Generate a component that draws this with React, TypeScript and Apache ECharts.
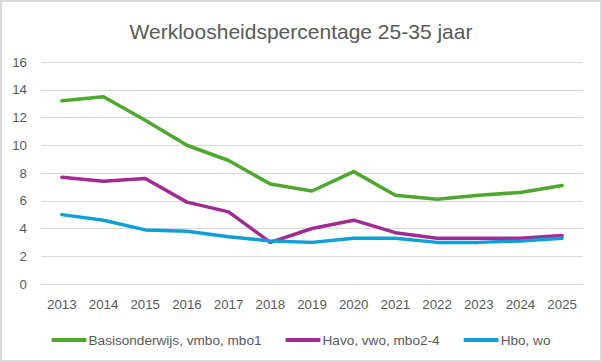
import React, { useEffect, useRef } from "react";
import * as echarts from "echarts";

const years = ["2013","2014","2015","2016","2017","2018","2019","2020","2021","2022","2023","2024","2025"];
const basis = [13.2, 13.5, 11.8, 10.0, 8.9, 7.2, 6.7, 8.1, 6.4, 6.1, 6.4, 6.6, 7.1];
const havo = [7.7, 7.4, 7.6, 5.9, 5.2, 3.0, 4.0, 4.6, 3.7, 3.3, 3.3, 3.3, 3.5];
const hbo = [5.0, 4.6, 3.9, 3.8, 3.4, 3.1, 3.0, 3.3, 3.3, 3.0, 3.0, 3.1, 3.3];
const seriesNames = ["Basisonderwijs, vmbo, mbo1", "Havo, vwo, mbo2-4", "Hbo, wo"];
const colors = ["#4EA72E", "#A02B93", "#0F9ED5"];

const FONT = "'Liberation Sans', Arial, sans-serif";

export default function App() {
  const ref = useRef<HTMLDivElement>(null);
  useEffect(() => {
    const chart = echarts.init(ref.current!, null, { renderer: "svg" });
    const data = [basis, havo, hbo];
    chart.setOption({
      animation: false,
      backgroundColor: "#ffffff",
      title: {
        text: "Werkloosheidspercentage 25-35 jaar",
        left: "center",
        top: 16,
        textStyle: { fontFamily: FONT, fontSize: 21, fontWeight: "normal", color: "#595959" },
      },
      graphic: [
        {
          type: "rect",
          shape: { x: 1, y: 1, width: 600, height: 360 },
          style: { fill: "none", stroke: "#d9d9d9", lineWidth: 2 },
          silent: true,
        },
      ],
      grid: { left: 41, right: 19, top: 62, bottom: 78, containLabel: false },
      legend: {
        top: 328,
        left: "center",
        icon: "roundRect",
        itemWidth: 35,
        itemHeight: 4,
        itemGap: 24,
        textStyle: { fontFamily: FONT, fontSize: 13.6, color: "#595959", padding: [0, 0, 0, -3] },
        data: seriesNames,
      },
      xAxis: {
        type: "category",
        data: years,
        boundaryGap: true,
        axisLine: { show: false },
        axisTick: { show: false },
        axisLabel: { fontFamily: FONT, fontSize: 13.3, color: "#595959", margin: 14 },
      },
      yAxis: {
        type: "value",
        min: 0,
        max: 16,
        interval: 2,
        axisLine: { show: false },
        axisTick: { show: false },
        axisLabel: { fontFamily: FONT, fontSize: 13.3, color: "#595959", margin: 14 },
        splitLine: { lineStyle: { color: "#d9d9d9", width: 1 } },
      },
      series: seriesNames.map((name, i) => ({
        name,
        type: "line",
        data: data[i],
        symbol: "none",
        lineStyle: { color: colors[i], width: 3.5, cap: "round", join: "round" },
        itemStyle: { color: colors[i] },
      })),
    });
    return () => chart.dispose();
  }, []);
  return (
    <div
      ref={ref}
      style={{ position: "fixed", left: 0, top: 0, width: 602, height: 362 }}
    />
  );
}
